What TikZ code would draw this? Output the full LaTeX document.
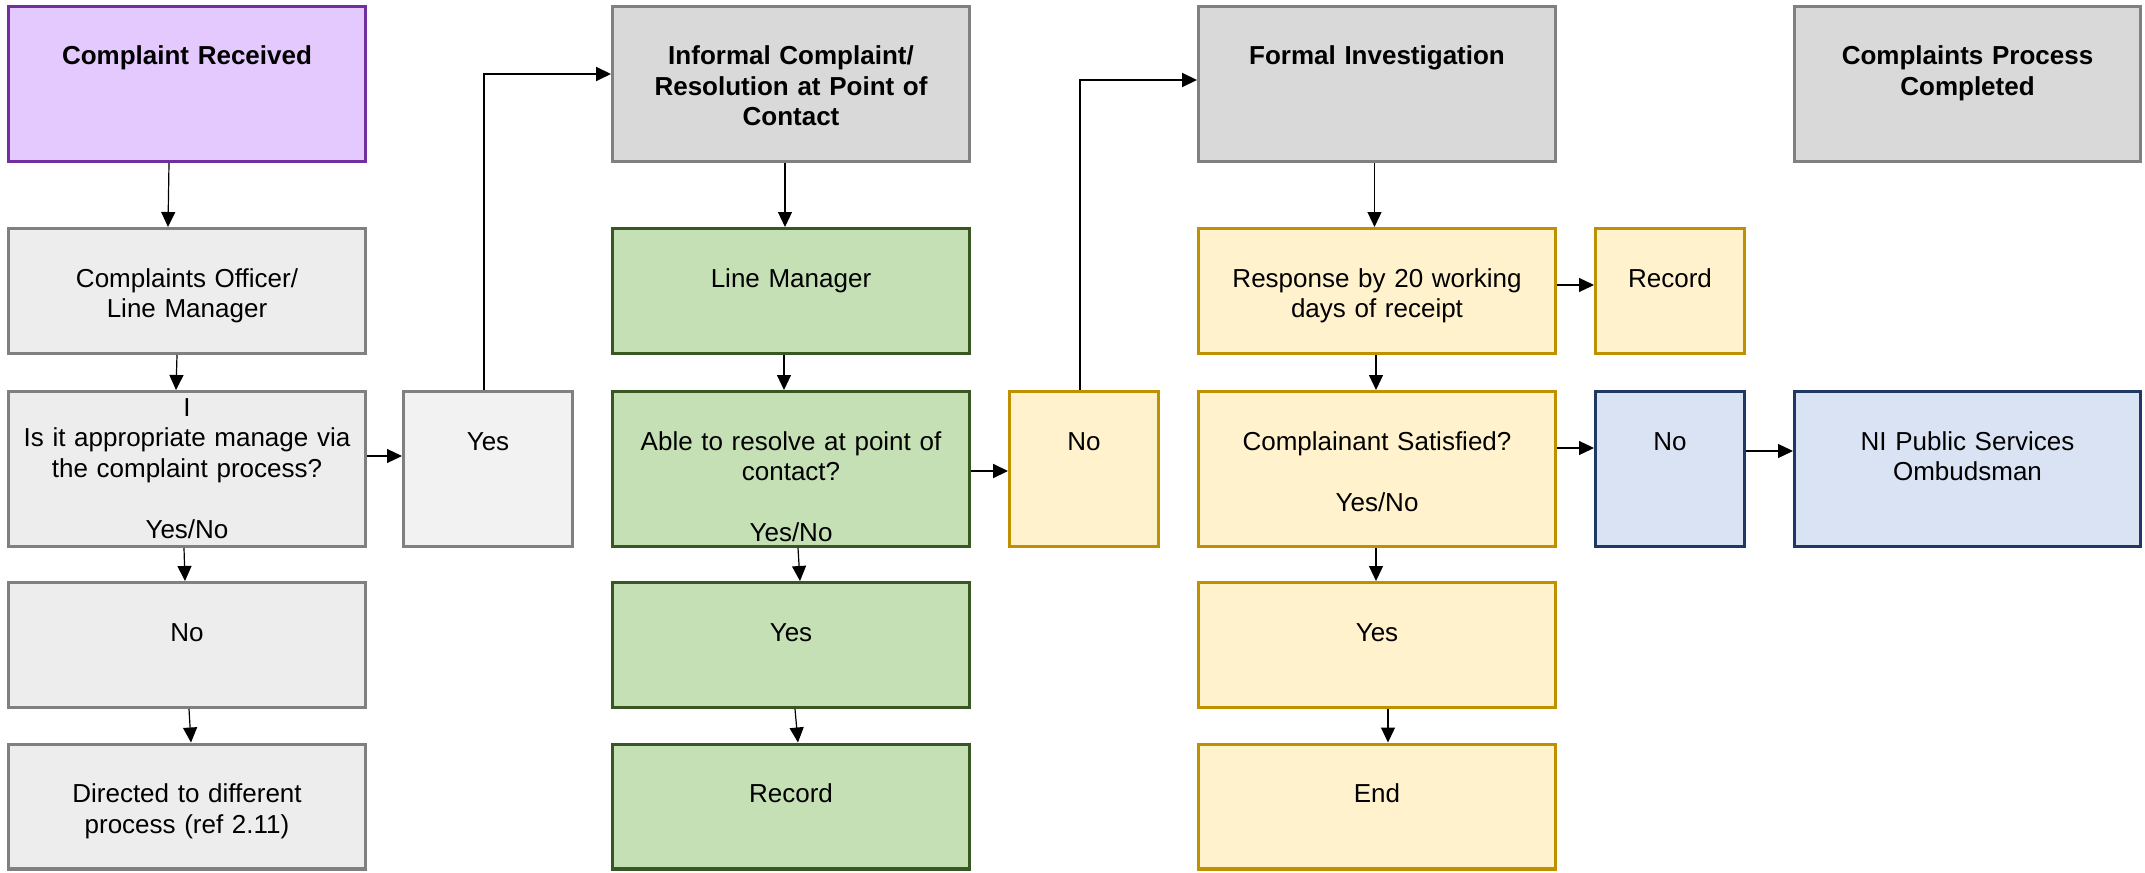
\documentclass[tikz,border=0pt]{standalone}
\usepackage{fontspec}
\setmainfont{Liberation Sans}
\usetikzlibrary{arrows.meta}

\definecolor{purpfill}{HTML}{E3C9FD}
\definecolor{purpline}{HTML}{7030A0}
\definecolor{hdrfill}{HTML}{D9D9D9}
\definecolor{greyfill}{HTML}{EDEDED}
\definecolor{yesfill}{HTML}{F2F2F2}
\definecolor{greyline}{HTML}{808080}
\definecolor{grnfill}{HTML}{C5E0B4}
\definecolor{grnline}{HTML}{385723}
\definecolor{ylwfill}{HTML}{FFF2CC}
\definecolor{ylwline}{HTML}{BF9000}
\definecolor{blufill}{HTML}{DAE3F3}
\definecolor{bluline}{HTML}{203864}

\newcommand{\fs}{\fontsize{13}{15.25}\selectfont}

\tikzset{
  box/.style={draw, line width=1.6pt, inner sep=0pt, align=center, font=\fs, text height=29.2pt},
  wide/.style={text width=178.4pt},
  colD/.style={text width=172.9pt},
  narrow/.style={text width=74.4pt},
  tall/.style={text depth=48.2pt},
  short/.style={text depth=33.2pt},
  purp/.style={box, draw=purpline, fill=purpfill, font=\fs\bfseries},
  hdr/.style={box, draw=greyline, fill=hdrfill, font=\fs\bfseries},
  grey/.style={box, draw=greyline, fill=greyfill},
  yesbox/.style={box, draw=greyline, fill=yesfill, text width=84.4pt},
  grn/.style={box, draw=grnline, fill=grnfill},
  ylw/.style={box, draw=ylwline, fill=ylwfill},
  blu/.style={box, draw=bluline, fill=blufill},
  arr/.style={->, line width=.6pt},
  elb/.style={->, line width=1pt}
}

\begin{document}
\begin{tikzpicture}[x=1pt,y=-1pt,>={Triangle[width=7pt,length=7.5pt]}]
\useasboundingbox (0,0) rectangle (1072.5,436);
% first column
\draw node [purp, wide, tall] (recv) at (93.5,42) {Complaint Received};
\draw node [grey, wide, short] (offc) at (93.5,145.5) {Complaints Officer/\\Line Manager};
\draw node [grey, wide, text height=12.2pt, text depth=65.2pt] (appr) at (93.5,234.5)
  {I\\Is it appropriate manage via\\the complaint process?\\[\baselineskip]Yes/No};
\draw node [grey, wide, short] (noA) at (93.5,322.5) {No};
\draw node [grey, wide, short] (dirA) at (93.5,403.25) {Directed to different\\process (ref 2.11)};
\draw node [yesbox, tall] (yesA) at (244,234.5) {Yes};
% informal
\draw node [hdr, wide, tall] (inf) at (395.5,42) {Informal Complaint/\\Resolution at Point of\\Contact};
\draw node [grn, wide, short] (lmgr) at (395.5,145.5) {Line Manager};
\draw node [grn, wide, tall] (able) at (395.5,234.5) {Able to resolve at point of\\contact?\\[\baselineskip]Yes/No};
\draw node [grn, wide, short] (yesB) at (395.5,322.5) {Yes};
\draw node [grn, wide, short] (recB) at (395.5,403.25) {Record};
\draw node [ylw, narrow, tall] (noY) at (542,234.5) {No};
% formal
\draw node [hdr, wide, tall] (formal) at (688.5,42) {Formal Investigation};
\draw node [ylw, wide, short] (resp) at (688.5,145.5) {Response by 20 working\\days of receipt};
\draw node [ylw, wide, tall] (sat) at (688.5,234.5) {Complainant Satisfied?\\[\baselineskip]Yes/No};
\draw node [ylw, wide, short] (yesC) at (688.5,322.5) {Yes};
\draw node [ylw, wide, short] (endC) at (688.5,403.25) {End};
\draw node [ylw, narrow, short] (recC) at (835,145.5) {Record};
\draw node [blu, narrow, tall] (noB) at (835,234.5) {No};
% completed
\draw node [hdr, colD, tall] (done) at (983.75,42) {Complaints Process\\Completed};
\draw node [blu, colD, tall] (ombud) at (983.75,234.5) {NI Public Services\\Ombudsman};

\draw [arr] ([xshift=-9pt]recv.south) -- ([xshift=-9.5pt]offc.north);
\draw [arr] ([xshift=-5pt]offc.south) -- ([xshift=-5.5pt]appr.north);
\draw [arr] ([yshift=6.5pt]appr.east) -- ([yshift=6.5pt]yesA.west);
\draw [arr] ([xshift=-1.5pt]appr.south) -- ([xshift=-1pt]noA.north);
\draw [arr] ([xshift=1pt]noA.south) -- ([xshift=2pt]dirA.north);
\draw [elb] ([xshift=-2pt]yesA.north) |- ([yshift=5pt]inf.west);

\draw [arr] ([xshift=-3pt]inf.south) -- ([xshift=-3pt]lmgr.north);
\draw [arr] ([xshift=-3.5pt]lmgr.south) -- ([xshift=-3.5pt]able.north);
\draw [elb] ([yshift=-1pt]able.east) -- ([yshift=-1pt]noY.west);
\draw [arr] ([xshift=3.5pt]able.south) -- ([xshift=4.5pt]yesB.north);
\draw [arr] ([xshift=2pt]yesB.south) -- ([xshift=3.5pt]recB.north);
\draw [elb] ([xshift=-2pt]noY.north) |- ([yshift=2pt]formal.west);

\draw [arr] ([xshift=-1.25pt]formal.south) -- ([xshift=-1.25pt]resp.north);
\draw [arr] ([xshift=-.5pt]resp.south) -- ([xshift=-.5pt]sat.north);
\draw [arr] ([yshift=3pt]resp.east) -- ([yshift=3pt]recC.west);
\draw [arr] ([yshift=10.5pt]sat.east) -- ([yshift=10.5pt]noB.west);
\draw [arr] ([yshift=9pt]noB.east) -- ([yshift=9pt]ombud.west);
\draw [arr] ([xshift=-.5pt]sat.south) -- ([xshift=-.5pt]yesC.north);
\draw [arr] ([xshift=5.5pt]yesC.south) -- ([xshift=5.5pt]endC.north);
\end{tikzpicture}
\end{document}
